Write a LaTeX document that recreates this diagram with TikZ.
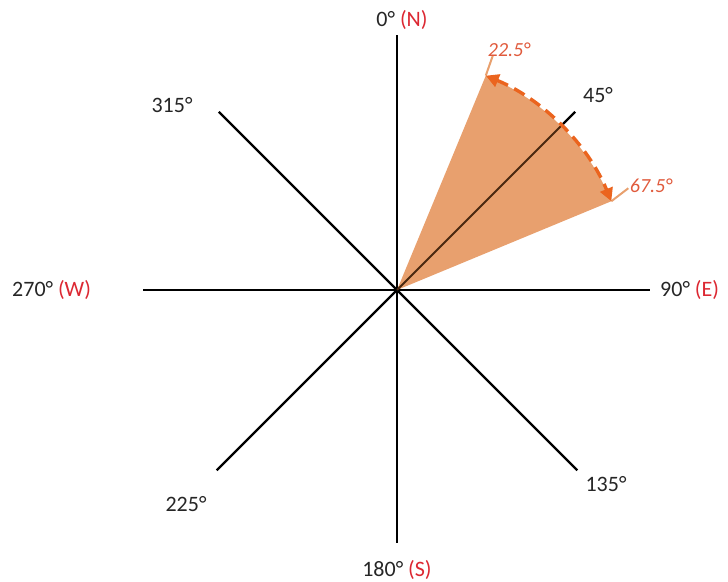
\documentclass[tikz,border=0pt]{standalone}
\usepackage{fontspec}
\setmainfont{Carlito}
\usetikzlibrary{arrows.meta,calc}
\definecolor{sectorfill}{HTML}{E8A06E}
\definecolor{arcorange}{HTML}{EB641E}
\definecolor{redletter}{HTML}{DC2832}
\definecolor{anglelabel}{HTML}{E05A3C}
\definecolor{innerline}{HTML}{4A2810}
\begin{document}
\begin{tikzpicture}[x=1pt,y=1pt,
  axis/.style={line width=2.4pt, black},
  lbl/.style={font=\fontsize{22}{26}\selectfont, inner sep=0pt, text=black!85},
  alabel/.style={font=\fontsize{20}{23}\selectfont\itshape, text=anglelabel, inner sep=0pt},
  ticksty/.style={line width=2pt, sectorfill},
  arcsty/.style={line width=3.4pt, arcorange, dash pattern=on 12pt off 7pt,
    {Triangle[length=13pt,width=13pt]}-{Triangle[length=13pt,width=13pt]}},
  sector/.style={fill=sectorfill},
  ]
\useasboundingbox (0,0) rectangle (728,-581);
\coordinate (C) at (397,-290);
\coordinate (pN) at ($(C)+(90:255)$);
\coordinate (pS) at ($(C)+(270:253)$);
\coordinate (pE) at ($(C)+(0:253)$);
\coordinate (pW) at ($(C)+(180:254)$);
\coordinate (pNE) at ($(C)+(45:252)$);
\coordinate (pNW) at ($(C)+(135:252)$);
\coordinate (pSW) at ($(C)+(225:255)$);
\coordinate (pSE) at ($(C)+(315:255)$);
% axes
\draw[axis] (pN) -- (pS);
\draw[axis] (pW) -- (pE);
\draw[axis] (pNW) -- (pSE);
\draw[axis] (pSW) -- (C);
\draw[axis] (C) -- (pNE);
% sector
\coordinate (e1) at ($(C)+(67.5:232)$);
\coordinate (e2) at ($(C)+(22.5:232)$);
\coordinate (em) at ($(C)+(45:232)$);
\fill[sector] (C) -- (e1) arc[start angle=67.5, end angle=22.5, radius=232] -- cycle;
\draw[line width=2pt, innerline] (C) -- (em);
% ticks
\coordinate (t1) at ($(e1)+(7,20)$);
\coordinate (t2) at ($(e2)+(17,13)$);
\draw[ticksty] (e1) -- (t1);
\draw[ticksty] (e2) -- (t2);
% dashed arc
\draw[arcsty] (e1) arc[start angle=67.5, end angle=22.5, radius=232];
% labels
\node[lbl] (lN) at (402,-20) {0° \textcolor{redletter}{(N)}};
\node[lbl, anchor=west] (lE) at (660,-290) {90° \textcolor{redletter}{(E)}};
\node[lbl, anchor=west] (lW) at (12,-290) {270° \textcolor{redletter}{(W)}};
\node[lbl] (lS) at (397,-570) {180° \textcolor{redletter}{(S)}};
\node[lbl] (lNE) at (598,-95) {45°};
\node[lbl] (lNW) at (172,-105) {315°};
\node[lbl] (lSW) at (186,-504) {225°};
\node[lbl] (lSE) at (606,-484) {135°};
\node[alabel] (a1) at (509,-50) {22.5°};
\node[alabel] (a2) at (651,-186) {67.5°};
\end{tikzpicture}
\end{document}
